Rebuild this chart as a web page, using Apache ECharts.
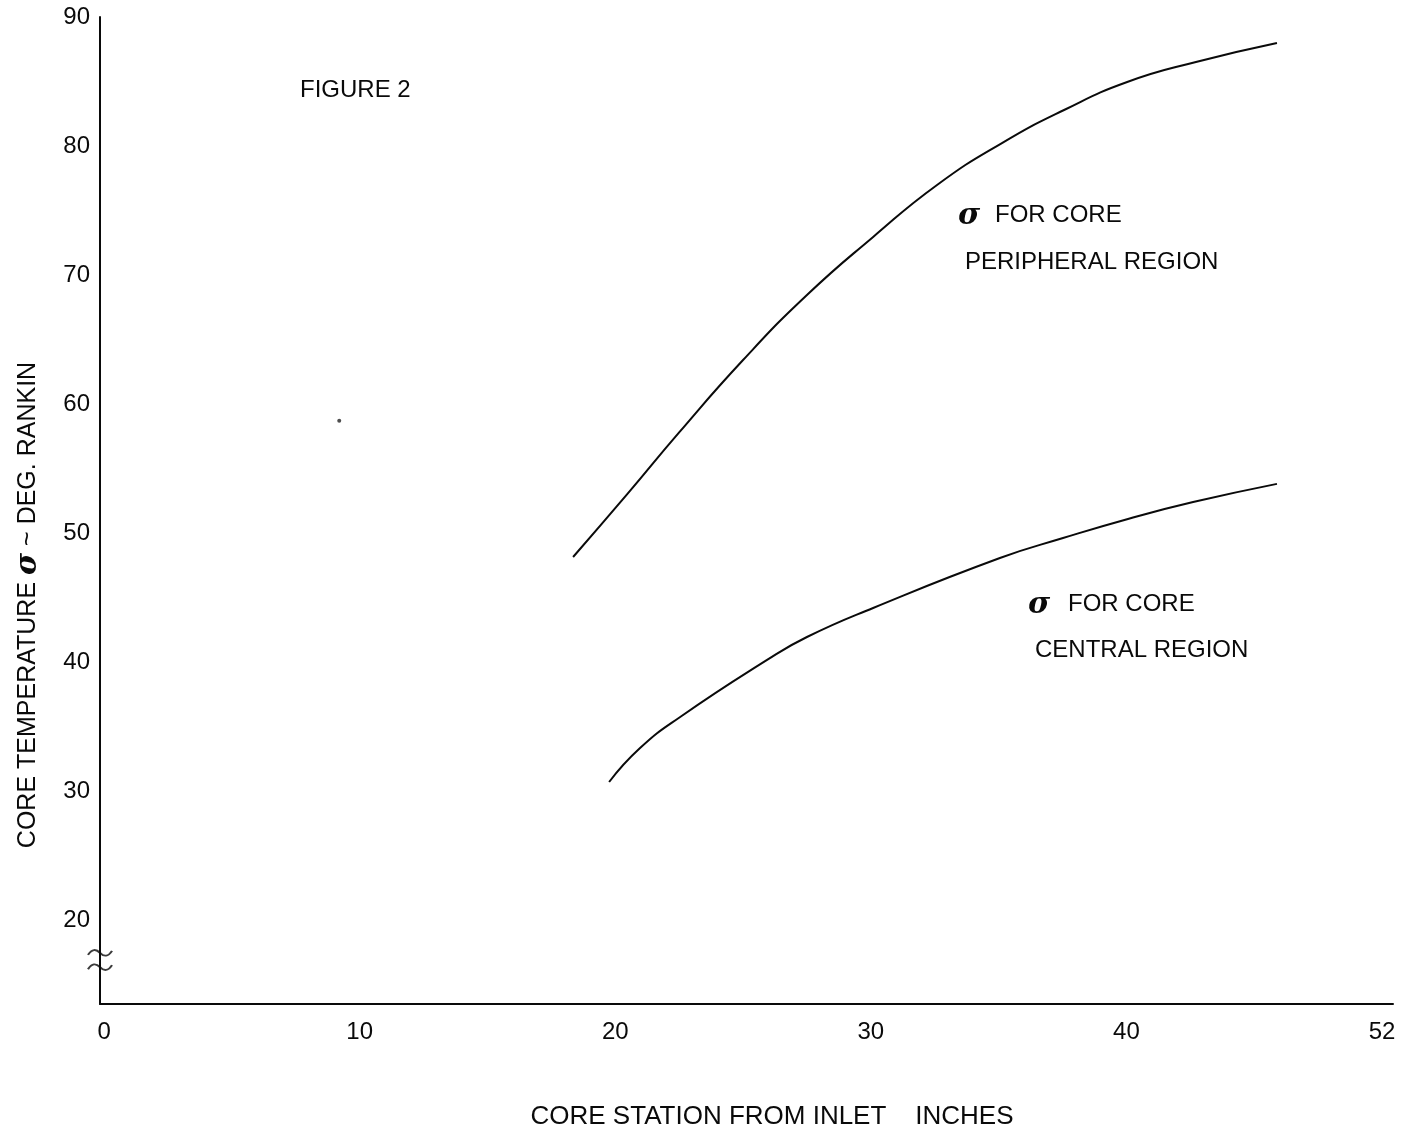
<!DOCTYPE html>
<html>
<head>
<meta charset="utf-8">
<script src="https://cdn.jsdelivr.net/npm/echarts@6/dist/echarts.min.js"></script>
<style>
  html, body { margin: 0; padding: 0; background: #fff; }
  #chart { width: 1401px; height: 1138px; }
</style>
</head>
<body>
<div id="chart"></div>
<script>
// ---- data ----
var peripheralX = [18.35, 20.46, 22.50, 25.00, 27.50, 30.09, 32.59, 35.13, 37.56, 40.03, 42.72, 45.89];
var peripheralY = [48.14, 52.99, 57.80, 63.41, 68.45, 72.95, 76.98, 80.23, 82.79, 84.96, 86.51, 87.98];
var centralX = [19.76, 20.97, 22.54, 25.94, 27.50, 30.09, 35.05, 37.52, 40.06, 42.61, 45.89];
var centralY = [30.70, 33.33, 35.74, 40.16, 41.94, 44.19, 48.06, 49.61, 51.09, 52.40, 53.81];
var strayDot = [[9.2, 58.7]];
var xTickValues = [0, 10, 20, 30, 40, 50];
var xTickLabels = ['0', '10', '20', '30', '40', '52'];
var yTickValues = [20, 30, 40, 50, 60, 70, 80, 90];
var yTickLabels = ['20', '30', '40', '50', '60', '70', '80', '90'];
var axisBreakAt = [[-0.16, 16.9]];

function pairs(xs, ys) { return xs.map(function (x, i) { return [x, ys[i]]; }); }

var FONT = '"Liberation Sans", Arial, sans-serif';
var INK = '#0a0a0a';
var chart = echarts.init(document.getElementById('chart'), null, { renderer: 'canvas' });

chart.setOption({
  animation: false,
  backgroundColor: '#ffffff',
  grid: { left: 100, right: 8, top: 17, bottom: 134, containLabel: false },
  xAxis: {
    type: 'value', min: -0.16, max: 50.43,
    axisLine: { show: true, onZero: false, lineStyle: { color: INK, width: 2 } },
    axisTick: { show: false },
    splitLine: { show: false },
    axisLabel: {
      customValues: xTickValues,
      formatter: function (v) { var i = xTickValues.indexOf(v); return i >= 0 ? xTickLabels[i] : ''; },
      color: INK, fontFamily: FONT, fontSize: 24, margin: 16
    }
  },
  yAxis: {
    type: 'value', min: 13.49, max: 90,
    axisLine: { show: true, onZero: false, lineStyle: { color: INK, width: 2 } },
    axisTick: { show: false },
    splitLine: { show: false },
    axisLabel: {
      customValues: yTickValues,
      formatter: function (v) { var i = yTickValues.indexOf(v); return i >= 0 ? yTickLabels[i] : ''; },
      color: INK, fontFamily: FONT, fontSize: 24, margin: 10
    }
  },
  series: [
    {
      name: 'peripheral', type: 'line', smooth: 0.5, showSymbol: false,
      data: pairs(peripheralX, peripheralY),
      lineStyle: { color: INK, width: 2 }
    },
    {
      name: 'central', type: 'line', smooth: 0.5, showSymbol: false,
      data: pairs(centralX, centralY),
      lineStyle: { color: INK, width: 2 }
    },
    {
      name: 'dot', type: 'scatter', data: strayDot, symbolSize: 4,
      itemStyle: { color: '#222' }
    },
    {
      name: 'break', type: 'scatter', data: axisBreakAt,
      symbol: 'path://M0,6 C4,0 8,0 12,4 C16,8 20,8 24,2 M0,20 C4,14 8,14 12,18 C16,22 20,22 24,16',
      symbolSize: [24, 20], symbolKeepAspect: false,
      itemStyle: { color: 'rgba(0,0,0,0)', borderColor: INK, borderWidth: 2 }
    }
  ],
  graphic: [
    { type: 'text', x: 300, y: 90, style: { text: 'FIGURE 2', fill: INK, font: '24px ' + FONT, verticalAlign: 'middle' } },
    { type: 'text', x: 958, y: 216, style: { text: 'σ', fill: INK, font: 'italic bold 30px "DejaVu Serif", serif', verticalAlign: 'middle' } },
    { type: 'text', x: 995, y: 215, style: { text: 'FOR CORE', fill: INK, font: '24px ' + FONT, verticalAlign: 'middle' } },
    { type: 'text', x: 965, y: 262, style: { text: 'PERIPHERAL REGION', fill: INK, font: '24px ' + FONT, verticalAlign: 'middle' } },
    { type: 'text', x: 1028, y: 605, style: { text: 'σ', fill: INK, font: 'italic bold 30px "DejaVu Serif", serif', verticalAlign: 'middle' } },
    { type: 'text', x: 1068, y: 604, style: { text: 'FOR CORE', fill: INK, font: '24px ' + FONT, verticalAlign: 'middle' } },
    { type: 'text', x: 1035, y: 650, style: { text: 'CENTRAL REGION', fill: INK, font: '24px ' + FONT, verticalAlign: 'middle' } },
    { type: 'text', x: 772, y: 1117, style: { text: 'CORE STATION FROM INLET    INCHES', fill: INK, font: '26px ' + FONT, align: 'center', verticalAlign: 'middle' } },
    {
      type: 'text', x: 28, y: 605, rotation: Math.PI / 2,
      style: {
        text: '{a|CORE TEMPERATURE }{s|σ}{a| ~ DEG. RANKIN}',
        align: 'center', verticalAlign: 'middle',
        rich: {
          a: { fill: INK, font: '25px ' + FONT },
          s: { fill: INK, font: 'italic bold 30px "DejaVu Serif", serif' }
        }
      }
    }
  ]
});
</script>
</body>
</html>
